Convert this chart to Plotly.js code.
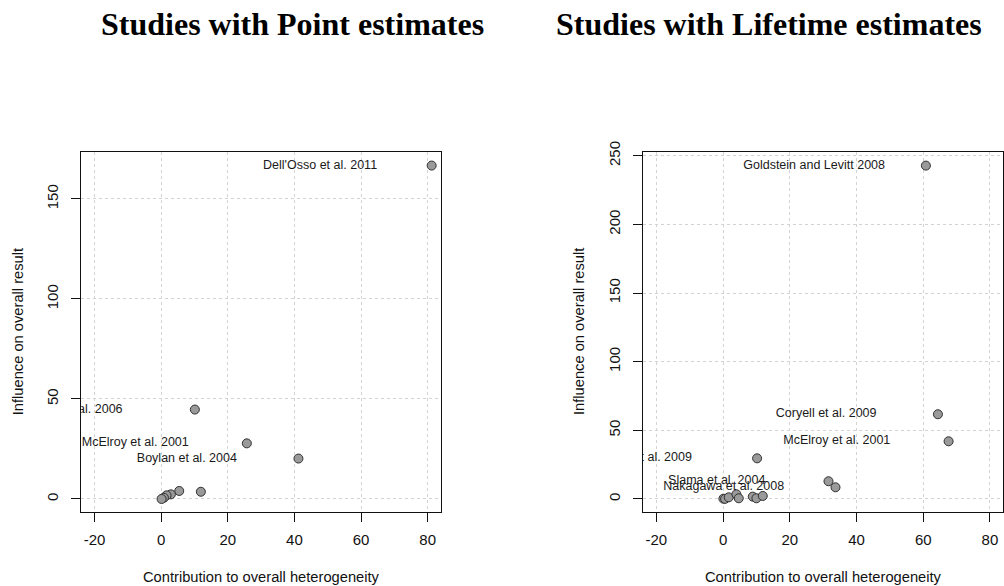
<!DOCTYPE html>
<html>
<head>
<meta charset="utf-8">
<script src="https://cdn.plot.ly/plotly-3.0.1.min.js"></script>
<style>html,body{margin:0;padding:0;background:#fff;}#chart{width:1004px;height:586px;}</style>
</head>
<body>
<div id="chart"></div>
<script>
// Panel 1: Studies with Point estimates
const pointX = [81.2, 10.1, 25.7, 41.2, 5.4, 11.9, 2.9, 1.6, 0.8, 0.1];
const pointY = [166.7, 44.7, 27.8, 20.2, 4.0, 3.6, 2.3, 1.8, 0.6, 0.0];
const pointLabels = ["Dell'Osso et al. 2011", "Lin et al. 2006", "McElroy et al. 2001", "Boylan et al. 2004", "", "", "", "", "", ""];

// Panel 2: Studies with Lifetime estimates
const lifeX = [60.8, 64.4, 67.6, 10.2, 31.6, 33.7, 0.1, 0.6, 1.7, 4.0, 4.7, 8.9, 10.0, 11.9];
const lifeY = [242.8, 61.7, 42.0, 29.6, 12.9, 8.5, 0.2, 0.1, 1.2, 3.4, 0.5, 1.7, 0.5, 2.2];
const lifeLabels = ["Goldstein and Levitt 2008", "Coryell et al. 2009", "McElroy et al. 2001", "Perlis et al. 2009", "Slama et al. 2004", "Nakagawa et al. 2008", "", "", "", "", "", "", "", ""];

const xTicks = [-20, 0, 20, 40, 60, 80];
const yTicksPoint = [0, 50, 100, 150];
const yTicksLife = [0, 50, 100, 150, 200, 250];

const panelTitles = ["Studies with Point estimates", "Studies with Lifetime estimates"];
const xTitle = "Contribution to overall heterogeneity";
const yTitle = "Influence on overall result";

const LABEL_SHIFT = 33.5; // label centre offset to the left, in x units

function labelTrace(xs, ys, labels, xa, ya) {
  const lx = [], ly = [], lt = [];
  labels.forEach((t, i) => { if (t) { lx.push(xs[i] - LABEL_SHIFT); ly.push(ys[i]); lt.push(t); } });
  return {x: lx, y: ly, text: lt, mode: 'text', type: 'scatter', xaxis: xa, yaxis: ya,
    textposition: 'middle center', cliponaxis: true, hoverinfo: 'skip',
    textfont: {family: 'Liberation Sans, Arial, sans-serif', size: 12.5, color: '#1a1a1a'}};
}
function pointTrace(xs, ys, xa, ya) {
  return {x: xs, y: ys, mode: 'markers', type: 'scatter', xaxis: xa, yaxis: ya,
    marker: {size: 9, color: '#9a9a9a', line: {color: '#303030', width: 1}}};
}

const W = 1004, H = 586;
const px = v => v / W, py = v => 1 - v / H;

function xaxisCfg(dom, anchor) {
  return {domain: dom, anchor: anchor, range: [-24, 84], tickvals: xTicks, ticktext: xTicks.map(String),
    showgrid: true, gridcolor: '#d3d3d3', griddash: 'dot', gridwidth: 1, zeroline: false,
    showline: true, mirror: true, linecolor: '#111', linewidth: 1,
    ticks: 'outside', ticklen: 9, tickcolor: '#111', ticklabelstandoff: 5,
    tickfont: {family: 'Liberation Sans, Arial, sans-serif', size: 15, color: '#111'}, fixedrange: true};
}
function yaxisCfg(range, ticks, anchor) {
  return {domain: [py(512.3), py(152.3)], anchor: anchor, range: range, tickvals: ticks, ticktext: ticks.map(String),
    showgrid: true, gridcolor: '#d3d3d3', griddash: 'dot', gridwidth: 1, zeroline: false,
    showline: true, mirror: true, linecolor: '#111', linewidth: 1,
    ticks: 'outside', ticklen: 9, tickcolor: '#111', tickangle: -90, ticklabelstandoff: 7,
    tickfont: {family: 'Liberation Sans, Arial, sans-serif', size: 15, color: '#111'}, fixedrange: true};
}

const data = [
  pointTrace(pointX, pointY, 'x', 'y'),
  labelTrace(pointX, pointY, pointLabels, 'x', 'y'),
  pointTrace(lifeX, lifeY, 'x2', 'y2'),
  labelTrace(lifeX, lifeY, lifeLabels, 'x2', 'y2')
];

const txtFont = {family: 'Liberation Sans, Arial, sans-serif', size: 14.7, color: '#111'};
const titleFont = {family: 'Liberation Serif, Times New Roman, serif', size: 32, color: '#000', weight: 'bold'};

const layout = {
  width: W, height: H, margin: {l: 0, r: 0, t: 0, b: 0},
  paper_bgcolor: '#fff', plot_bgcolor: '#fff', showlegend: false,
  xaxis: xaxisCfg([px(81.3), px(441)], 'y'),
  yaxis: yaxisCfg([-6.67, 173.33], yTicksPoint, 'x'),
  xaxis2: xaxisCfg([px(643), px(1003.3)], 'y2'),
  yaxis2: yaxisCfg([-9.71, 252.5], yTicksLife, 'x2'),
  annotations: [
    {text: '<b>' + panelTitles[0] + '</b>', xref: 'paper', yref: 'paper', x: px(292.5), y: py(24), xanchor: 'center', yanchor: 'middle', showarrow: false, font: titleFont},
    {text: '<b>' + panelTitles[1] + '</b>', xref: 'paper', yref: 'paper', x: px(768.5), y: py(24), xanchor: 'center', yanchor: 'middle', showarrow: false, font: titleFont},
    {text: xTitle, xref: 'paper', yref: 'paper', x: px(261), y: py(577), xanchor: 'center', yanchor: 'middle', showarrow: false, font: txtFont},
    {text: xTitle, xref: 'paper', yref: 'paper', x: px(823), y: py(577), xanchor: 'center', yanchor: 'middle', showarrow: false, font: txtFont},
    {text: yTitle, xref: 'paper', yref: 'paper', x: px(18.3), y: py(332), xanchor: 'center', yanchor: 'middle', textangle: -90, showarrow: false, font: txtFont},
    {text: yTitle, xref: 'paper', yref: 'paper', x: px(579), y: py(332), xanchor: 'center', yanchor: 'middle', textangle: -90, showarrow: false, font: txtFont}
  ]
};

Plotly.newPlot('chart', data, layout, {displayModeBar: false, staticPlot: true});
</script>
</body>
</html>
